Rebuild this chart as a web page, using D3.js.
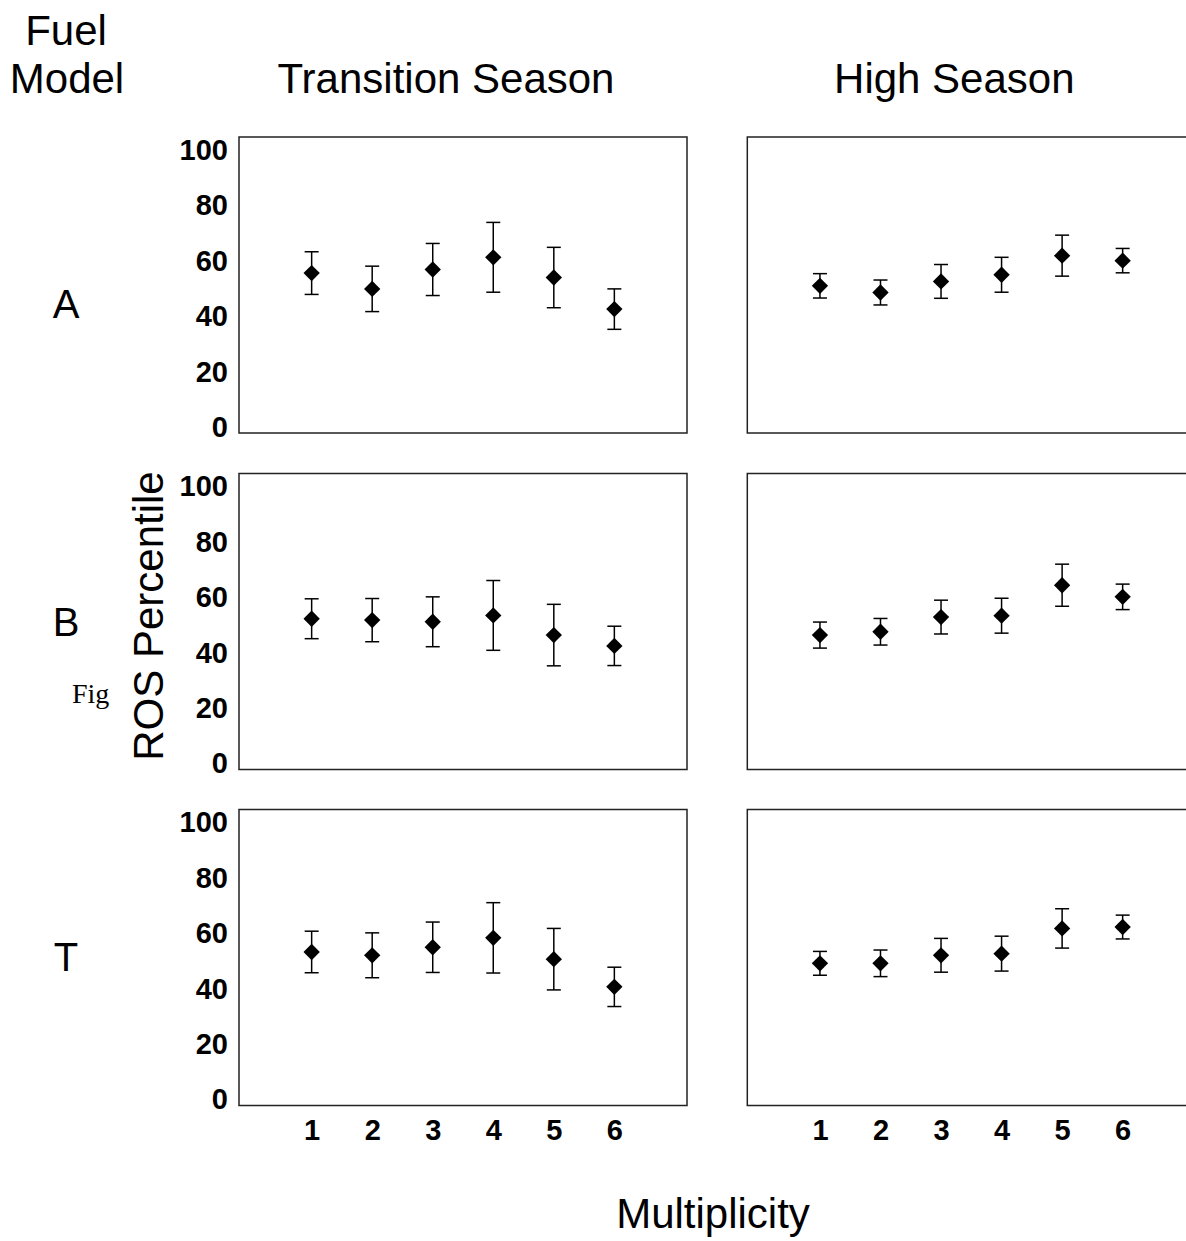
<!DOCTYPE html>
<html>
<head>
<meta charset="utf-8">
<script src="https://cdn.jsdelivr.net/npm/d3@7"></script>
<style>
body { margin: 0; background: #fff; }
text { font-family: "Liberation Sans", Arial, sans-serif; fill: #000; }
.tick-label { font-weight: bold; font-size: 29px; }
.big { font-size: 42px; }
.frame { fill: none; stroke: #222; stroke-width: 1.5; }
.err { stroke: #000; stroke-width: 1.5; }
</style>
</head>
<body>
<div id="chart"></div>
<script>
var multiplicity = [1, 2, 3, 4, 5, 6];
var yTicks = [0, 20, 40, 60, 80, 100];
var fuelModels = ["A", "B", "T"];
var seasons = ["Transition Season", "High Season"];

// mean ROS percentile and error (+/-) per multiplicity
var transA = [55.2, 49.5, 56.5, 60.9, 53.6, 42.2];
var transAErr = [7.7, 8.2, 9.4, 12.6, 10.9, 7.3];
var highA = [50.6, 48.2, 52.2, 54.6, 61.5, 59.7];
var highAErr = [4.4, 4.5, 6.1, 6.3, 7.4, 4.4];

var transB = [51.9, 51.4, 50.8, 53.1, 46.0, 42.1];
var transBErr = [7.2, 7.8, 9.0, 12.6, 11.1, 7.1];
var highB = [46.0, 47.2, 52.5, 53.0, 64.0, 59.8];
var highBErr = [4.7, 4.8, 6.1, 6.3, 7.6, 4.6];

var transT = [52.9, 51.7, 54.6, 58.0, 50.3, 40.3];
var transTErr = [7.5, 8.1, 9.1, 12.7, 11.1, 7.1];
var highT = [48.8, 48.8, 51.7, 52.3, 61.4, 61.9];
var highTErr = [4.3, 4.8, 6.1, 6.3, 7.1, 4.3];

var series = [
    [[transA, transAErr], [highA, highAErr]],
    [[transB, transBErr], [highB, highBErr]],
    [[transT, transTErr], [highT, highTErr]]
];

var width = 1186, height = 1241;
var colLeft = [239, 747.3];
var rowTop = [137, 473.5, 809.5];
var panelW = 448, panelH = 296;

var svg = d3.select("#chart").append("svg")
    .attr("width", width)
    .attr("height", height);

// header texts
svg.append("text").attr("class", "big")
    .attr("x", 66).attr("y", 45)
    .attr("text-anchor", "middle")
    .text("Fuel");
svg.append("text").attr("class", "big")
    .attr("x", 67).attr("y", 93)
    .attr("text-anchor", "middle")
    .text("Model");

seasons.forEach(function(s, c) {
    svg.append("text").attr("class", "big")
        .attr("x", colLeft[c] + 207)
        .attr("y", 93)
        .attr("text-anchor", "middle")
        .text(s);
});

var rowLabelY = [318, 636, 971];
fuelModels.forEach(function(f, r) {
    svg.append("text").attr("class", "big")
        .attr("x", 66).attr("y", rowLabelY[r])
        .attr("text-anchor", "middle")
        .style("font-size", "40px")
        .text(f);
});

svg.append("text")
    .attr("x", 72).attr("y", 703)
    .style("font-family", "'Liberation Serif', 'Times New Roman', serif")
    .style("font-size", "28px")
    .text("Fig");

svg.append("text").attr("class", "big")
    .attr("transform", "translate(163,616) rotate(-90)")
    .attr("text-anchor", "middle")
    .text("ROS Percentile");

svg.append("text").attr("class", "big")
    .attr("x", 713).attr("y", 1228)
    .attr("text-anchor", "middle")
    .text("Multiplicity");

var diamond = d3.symbol().type(d3.symbolDiamond2).size(170);

for (var r = 0; r < 3; r++) {
    for (var c = 0; c < 2; c++) {
        var x = d3.scaleLinear().domain([-0.2, 7.2]).range([colLeft[c], colLeft[c] + panelW]);
        var y = d3.scaleLinear().domain([0, 100]).range([rowTop[r] + 289, rowTop[r] + 12]);
        var vals = series[r][c][0], errs = series[r][c][1];
        var data = multiplicity.map(function(m, i) { return {m: m, v: vals[i], e: errs[i]}; });

        var g = svg.append("g");

        g.append("rect")
            .attr("class", "frame")
            .attr("x", colLeft[c])
            .attr("y", rowTop[r])
            .attr("width", panelW)
            .attr("height", panelH);

        if (c === 0) {
            g.append("g")
                .attr("transform", "translate(" + (colLeft[c] - 11) + ",0)")
                .call(d3.axisLeft(y).tickValues(yTicks).tickSize(0).tickPadding(0))
                .call(function(a) { a.select(".domain").remove(); a.attr("font-size", null).attr("font-family", null); })
                .selectAll("text")
                .attr("class", "tick-label")
                .attr("dy", "0.36em");
        }

        if (r === 2) {
            g.append("g")
                .attr("transform", "translate(0," + (rowTop[r] + panelH + 14) + ")")
                .call(d3.axisBottom(x).tickValues(multiplicity).tickSize(0).tickPadding(0).tickFormat(d3.format("d")))
                .call(function(a) { a.select(".domain").remove(); a.attr("font-size", null).attr("font-family", null); })
                .selectAll("text")
                .attr("class", "tick-label")
                .attr("dy", "0.72em");
        }

        var pts = g.selectAll(".pt").data(data).enter().append("g").attr("class", "pt");

        pts.append("line").attr("class", "err")
            .attr("x1", function(d) { return x(d.m); })
            .attr("x2", function(d) { return x(d.m); })
            .attr("y1", function(d) { return y(d.v + d.e); })
            .attr("y2", function(d) { return y(d.v - d.e); });
        pts.append("line").attr("class", "err")
            .attr("x1", function(d) { return x(d.m) - 7; })
            .attr("x2", function(d) { return x(d.m) + 7; })
            .attr("y1", function(d) { return y(d.v + d.e); })
            .attr("y2", function(d) { return y(d.v + d.e); });
        pts.append("line").attr("class", "err")
            .attr("x1", function(d) { return x(d.m) - 7; })
            .attr("x2", function(d) { return x(d.m) + 7; })
            .attr("y1", function(d) { return y(d.v - d.e); })
            .attr("y2", function(d) { return y(d.v - d.e); });

        pts.append("path")
            .attr("d", diamond)
            .attr("transform", function(d) { return "translate(" + x(d.m) + "," + y(d.v) + ")"; })
            .style("fill", "#000");
    }
}
</script>
</body>
</html>
